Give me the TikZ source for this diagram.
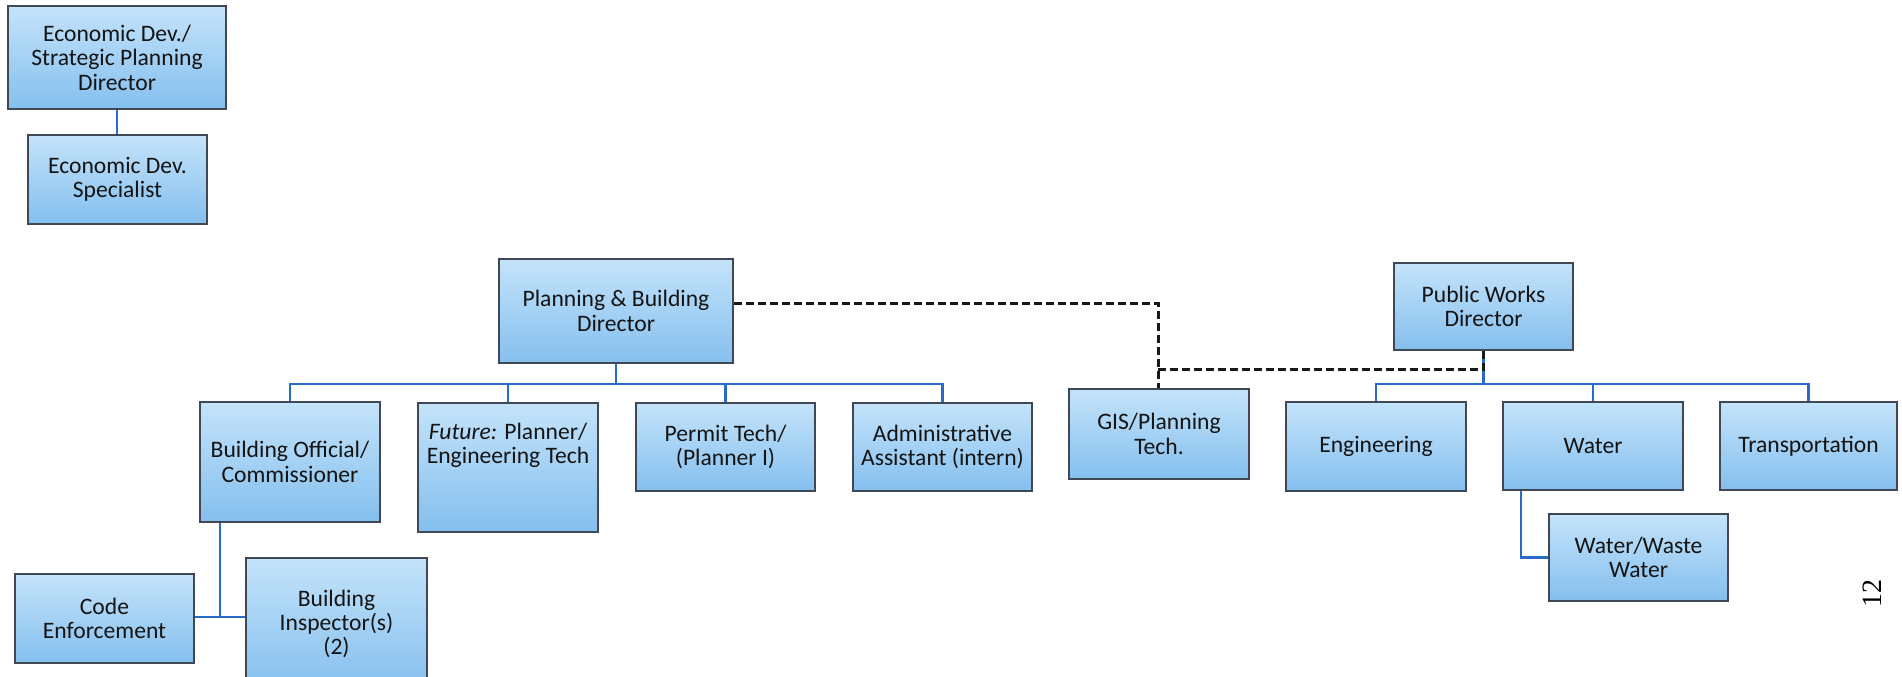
\documentclass[tikz,border=0pt]{standalone}
\usepackage{fontspec}
\setmainfont{Carlito}
\newfontfamily\pagefont{Liberation Serif}
\definecolor{posttop}{RGB}{196,227,250}
\definecolor{postbottom}{RGB}{132,191,238}
\definecolor{postedge}{RGB}{64,72,86}
\definecolor{reportline}{RGB}{38,108,200}
\tikzset{
  post/.style={draw=postedge,line width=1pt,top color=posttop,bottom color=postbottom,
    align=center,inner sep=0pt,font=\fontsize{11.8}{12.2}\selectfont,text=black!92},
  wh/.style 2 args={minimum width=#1pt,minimum height=#2pt},
  reports/.style={draw=reportline,line width=1.2pt},
  dotted link/.style={draw=black!90,line width=1.5pt,dash pattern=on 4pt off 2pt}
}

\begin{document}
\begin{tikzpicture}[x=0.5pt,y=-0.5pt]
\useasboundingbox (0,0) rectangle (1902,676);
\node (ecodir)    [post,wh={109}{51.5}]  at (117,57.5)    {Economic Dev./\\Strategic Planning\\Director};
\node (ecospec)   [post,wh={89.5}{44.5}] at (117.5,179.5) {Economic Dev.\\Specialist};
\node (pbdir)     [post,wh={117}{52}]    at (616,311)     {Planning \& Building\\Director};
\node (pwdir)     [post,wh={89.5}{43.5}] at (1483.5,306.5) {Public Works\\Director};
\node (bldgoff)   [post,wh={90}{60}]     at (290,462)     {Building Official/\\Commissioner};
\node (future)    [post,wh={90}{64.5}]   at (508,467.5)   {\textit{Future:} Planner/\\Engineering Tech\\[12pt]};
\node (permit)    [post,wh={89.5}{44}]   at (725.5,447)   {Permit Tech/\\(Planner I)};
\node (admin)     [post,wh={89.5}{44}]   at (942.5,447)   {Administrative\\Assistant (intern)};
\node (gis)       [post,wh={90}{45}]     at (1159,434)    {GIS/Planning\\Tech.};
\node (eng)       [post,wh={90}{44.5}]   at (1376,446.5)  {Engineering};
\node (water)     [post,wh={90}{44}]     at (1593,446)    {Water};
\node (transport) [post,wh={88.5}{44}]   at (1808.5,446)  {Transportation};
\node (wastewater)[post,wh={89.5}{43.5}] at (1638.5,557.5) {Water/Waste\\Water};
\node (codeenf)   [post,wh={89.5}{44.5}] at (104.5,618.5) {Code\\Enforcement};
\node (inspector) [post,wh={90.5}{66}]   at (336.5,624)   {Building\\Inspector(s)\\(2)};
\node (pagenum)   [rotate=90,font=\pagefont\fontsize{14}{14}\selectfont] at (1872,593) {12};

\draw[reports] (ecodir.south) -- (ecodir.south |- ecospec.north);
\foreach \c in {bldgoff,future,permit,admin}
  \draw[reports] (pbdir.south) -- ++(0,20) -| (\c.north);
\foreach \c in {eng,water,transport}
  \draw[reports] (pwdir.south) -- ++(0,33) -| (\c.north);
\coordinate (insjoin) at (220,617);
\draw[reports] (insjoin |- bldgoff.south) -- (insjoin);
\draw[reports] (codeenf.east |- insjoin) -- (inspector.west |- insjoin);
\coordinate (wwturn) at (1521,557);
\draw[reports] (wwturn |- water.south) |- (wastewater.west);

\coordinate (gisturn) at (1158,303);
\coordinate (gisjoin) at (1158,369);
\draw[dotted link] (pbdir.east |- gisturn) -- (gisturn) -- (gisturn |- gis.north);
\draw[dotted link] (gisjoin) -- (pwdir.south |- gisjoin) -- (pwdir.south);
\end{tikzpicture}
\end{document}
